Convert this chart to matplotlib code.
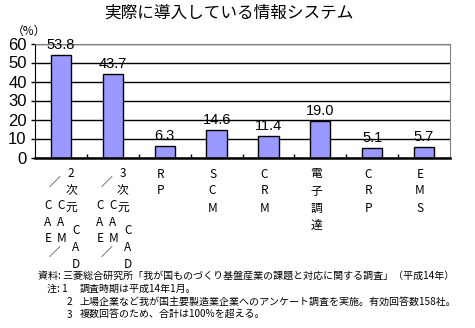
import matplotlib
matplotlib.use("Agg")
import matplotlib.pyplot as plt

plt.rcParams["font.family"] = ["Noto Sans CJK JP", "DejaVu Sans"]

W, H = 475, 328

TITLE = "実際に導入している情報システム"
categories = ["2次元CAD/CAM/CAE", "3次元CAD/CAM/CAE", "RP", "SCM", "CRM",
              "電子調達", "CRP", "EMS"]
values = [53.8, 43.7, 6.3, 14.6, 11.4, 19.0, 5.1, 5.7]
yticks = [0, 10, 20, 30, 40, 50, 60]

# vertical, wrapped tick labels as Excel drew them: (glyph, dx px, px below axis)
def cad_label(d):
    return [("／", -6, 25), (d, 10, 16), ("次", 10, 33),
            ("C", -13, 48), ("C", 0, 48), ("元", 10, 50),
            ("A", -13, 65), ("A", 0, 65), ("C", 15, 73),
            ("E", -13, 81), ("M", 1, 81), ("A", 15, 90),
            ("／", -6, 95), ("D", 15, 107)]

notes = [
    ("資料: 三菱総合研究所「我が国ものづくり基盤産業の課題と対応に関する調査」（平成14年）", 38, 276),
    ("注: 1", 47, 289), ("調査時期は平成14年1月。", 80, 289),
    ("2", 67, 302), ("上場企業など我が国主要製造業企業へのアンケート調査を実施。有効回答数158社。", 80, 302),
    ("3", 67, 315), ("複数回答のため、合計は100%を超える。", 80, 315),
]


def fx(x):
    return x / W


def fy(y):
    return 1 - y / H


fig = plt.figure(figsize=(W / 100, H / 100), dpi=100)
ax = fig.add_axes([fx(35), fy(157.5), fx(450) - fx(35), fy(43.5) - fy(157.5)])

xs = list(range(len(categories)))
ax.bar(xs, values, width=0.39, color="#9999ff", edgecolor="black", lw=1, zorder=2)
for x, v in zip(xs, values):
    ax.annotate(f"{v:.1f}", xy=(x, v), xytext=(0, 3), textcoords="offset pixels",
                ha="center", va="bottom", fontsize=10.5, family="Liberation Sans",
                zorder=3, annotation_clip=False)

ax.set_xlim(-0.5, len(categories) - 0.5)
ax.set_ylim(0, 60)
ax.set_yticks(yticks)
ax.set_yticklabels([str(t) for t in yticks], family="Liberation Sans", fontsize=12)
ax.yaxis.grid(True, color="black", lw=1)
ax.set_axisbelow(True)
ax.set_xticks([])
ax.set_xticks([i + 0.5 for i in xs[:-1]], minor=True)
ax.tick_params(axis="x", which="minor", direction="in", length=3, width=1, color="black")
ax.tick_params(axis="y", direction="out", length=3, width=1, pad=3)
for s in ("top", "right"):
    ax.spines[s].set_color("#808080")
ax.spines["left"].set_color("black")
ax.spines["bottom"].set_linewidth(1.8)

for i, cat in enumerate(categories):
    if "CAD" in cat:
        glyphs = cad_label(cat[0])
    else:
        glyphs = [(ch, -4, 16.5 + 17 * k) for k, ch in enumerate(cat)]
    for ch, dx, dy in glyphs:
        ax.annotate(ch, xy=(i, 0), xycoords=("data", "axes fraction"),
                    xytext=(dx, -dy), textcoords="offset pixels",
                    ha="center", va="center", fontsize=8.5, annotation_clip=False)

fig.text(fx(229), fy(13), TITLE, ha="center", va="center", fontsize=12)
fig.text(fx(12), fy(31), "（%）", ha="left", va="center", fontsize=8.5)
for txt, x, y in notes:
    fig.text(fx(x), fy(y), txt, ha="left", va="center", fontsize=7.2)

fig.savefig("out.png", dpi=100)
